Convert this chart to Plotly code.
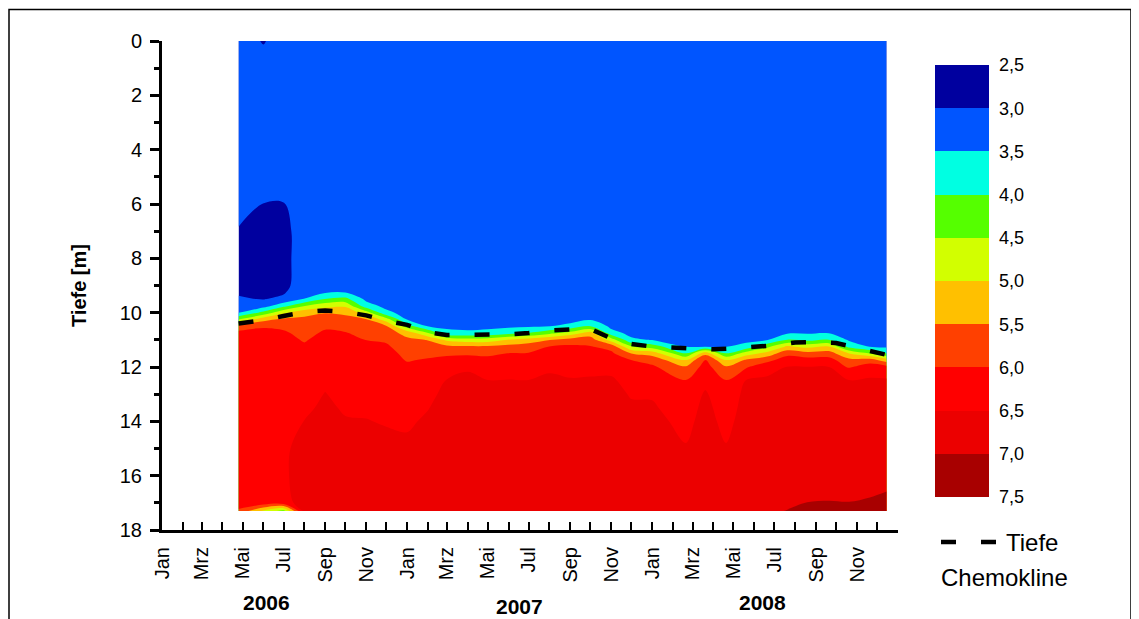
import numpy as np
import plotly.graph_objects as go

# ---------------- data ----------------
DEPTHS = [0, 1, 3, 5, 6, 7, 8, 9, 9.25, 9.5, 9.75, 10, 10.25, 10.5, 10.75,
          11, 11.25, 11.5, 11.75, 12, 12.5, 13, 13.5, 14, 15, 16, 17, 17.3]

DATES_2006 = ["2006-04-25", "2006-06-01", "2006-07-01", "2006-08-01", "2006-09-01",
              "2006-10-01", "2006-11-01", "2006-12-01"]
DATES_2007 = ["2007-01-01", "2007-02-01", "2007-03-01", "2007-04-01", "2007-05-01",
              "2007-06-01", "2007-07-01", "2007-08-01", "2007-09-01", "2007-10-01",
              "2007-11-01", "2007-12-01"]
DATES_2008 = ["2008-01-01", "2008-02-20", "2008-03-20", "2008-04-20", "2008-05-20",
              "2008-06-20", "2008-07-20", "2008-08-20", "2008-09-20", "2008-10-20",
              "2008-11-20", "2008-12-15"]

# pH profiles (one list per sampling date, values at DEPTHS)
PH_2006 = [
    [3.2, 3.2, 3.2, 3.2, 3.15, 2.97, 2.9, 2.92, 2.95, 3.05, 3.25, 3.47, 4.49, 5.79, 6.1, 6.2, 6.22, 6.24, 6.25, 6.26, 6.27, 6.28, 6.28, 6.3, 6.3, 6.3, 6.3, 5.9],
    [2.97, 3.2, 3.2, 3.15, 2.995, 2.85, 2.85, 2.88, 2.92, 2.98, 3.3, 4.14, 5.35, 5.96, 6.12, 6.2, 6.23, 6.25, 6.26, 6.27, 6.28, 6.29, 6.3, 6.3, 6.32, 6.32, 6.3, 4.9],
    [3.2, 3.2, 3.15, 3.1, 2.99, 2.88, 2.88, 2.9, 2.95, 3.1, 3.85, 4.92, 5.61, 5.89, 6.08, 6.18, 6.22, 6.24, 6.25, 6.26, 6.27, 6.28, 6.29, 6.3, 6.4, 6.42, 6.3, 4.3],
    [3.2, 3.2, 3.2, 3.2, 3.2, 3.2, 3.2, 3.2, 3.35, 3.52, 4.48, 5.35, 5.6, 5.71, 5.83, 5.95, 6.08, 6.15, 6.2, 6.22, 6.25, 6.3, 6.4, 6.51, 6.7, 6.72, 6.72, 6.65],
    [3.2, 3.2, 3.2, 3.2, 3.2, 3.2, 3.2, 3.29, 3.44, 4.02, 4.83, 5.48, 5.71, 5.92, 6.08, 6.2, 6.22, 6.24, 6.26, 6.3, 6.4, 6.52, 6.6, 6.7, 6.72, 6.74, 6.74, 6.72],
    [3.2, 3.2, 3.2, 3.2, 3.2, 3.2, 3.2, 3.32, 3.47, 4.15, 4.91, 5.41, 5.65, 5.85, 6.03, 6.15, 6.2, 6.22, 6.24, 6.25, 6.27, 6.34, 6.44, 6.54, 6.7, 6.74, 6.74, 6.72],
    [3.2, 3.2, 3.2, 3.2, 3.2, 3.2, 3.2, 3.2, 3.23, 3.38, 3.71, 4.75, 5.53, 5.69, 5.84, 5.99, 6.12, 6.2, 6.22, 6.24, 6.26, 6.3, 6.42, 6.52, 6.7, 6.74, 6.74, 6.72],
    [3.2, 3.2, 3.2, 3.2, 3.2, 3.2, 3.2, 3.2, 3.2, 3.22, 3.37, 3.62, 4.75, 5.54, 5.73, 5.92, 6.08, 6.2, 6.22, 6.24, 6.26, 6.28, 6.36, 6.46, 6.66, 6.72, 6.74, 6.72],
]
PH_2007 = [
    [3.2, 3.2, 3.2, 3.2, 3.2, 3.2, 3.2, 3.2, 3.2, 3.2, 3.2, 3.32, 3.47, 4.25, 5.33, 5.6, 5.72, 5.85, 5.97, 6.1, 6.22, 6.25, 6.32, 6.42, 6.62, 6.7, 6.74, 6.72],
    [3.2, 3.2, 3.2, 3.2, 3.2, 3.2, 3.2, 3.2, 3.2, 3.2, 3.2, 3.2, 3.32, 3.47, 4.52, 5.48, 5.69, 5.88, 6.05, 6.18, 6.25, 6.38, 6.48, 6.58, 6.72, 6.74, 6.74, 6.72],
    [3.2, 3.2, 3.2, 3.2, 3.2, 3.2, 3.2, 3.2, 3.2, 3.2, 3.2, 3.2, 3.23, 3.38, 3.67, 4.89, 5.63, 5.94, 6.1, 6.23, 6.52, 6.62, 6.7, 6.72, 6.74, 6.75, 6.75, 6.74],
    [3.2, 3.2, 3.2, 3.2, 3.2, 3.2, 3.2, 3.2, 3.2, 3.2, 3.2, 3.2, 3.21, 3.37, 3.59, 4.72, 5.57, 5.93, 6.2, 6.45, 6.59, 6.69, 6.72, 6.74, 6.74, 6.74, 6.74, 6.73],
    [3.2, 3.2, 3.2, 3.2, 3.2, 3.2, 3.2, 3.2, 3.2, 3.2, 3.2, 3.2, 3.23, 3.38, 3.65, 4.75, 5.57, 5.93, 6.1, 6.22, 6.51, 6.61, 6.7, 6.74, 6.74, 6.74, 6.74, 6.73],
    [3.2, 3.2, 3.2, 3.2, 3.2, 3.2, 3.2, 3.2, 3.2, 3.2, 3.2, 3.2, 3.26, 3.41, 3.83, 5.02, 5.67, 6.01, 6.13, 6.25, 6.52, 6.62, 6.7, 6.74, 6.74, 6.74, 6.74, 6.73],
    [3.2, 3.2, 3.2, 3.2, 3.2, 3.2, 3.2, 3.2, 3.2, 3.2, 3.2, 3.2, 3.29, 3.44, 4.02, 5.25, 5.75, 6.03, 6.15, 6.27, 6.51, 6.6, 6.7, 6.74, 6.74, 6.74, 6.74, 6.73],
    [3.2, 3.2, 3.2, 3.2, 3.2, 3.2, 3.2, 3.2, 3.2, 3.2, 3.2, 3.2, 3.34, 3.49, 4.36, 5.49, 6.01, 6.13, 6.27, 6.43, 6.58, 6.68, 6.72, 6.74, 6.74, 6.74, 6.74, 6.73],
    [3.2, 3.2, 3.2, 3.2, 3.2, 3.2, 3.2, 3.2, 3.2, 3.2, 3.2, 3.2, 3.3, 3.67, 4.69, 5.72, 6.08, 6.2, 6.29, 6.38, 6.53, 6.63, 6.7, 6.74, 6.74, 6.74, 6.74, 6.73],
    [3.2, 3.2, 3.2, 3.2, 3.2, 3.2, 3.2, 3.2, 3.2, 3.2, 3.2, 3.3, 3.45, 4.01, 5.21, 5.74, 6.03, 6.15, 6.27, 6.38, 6.55, 6.65, 6.7, 6.74, 6.74, 6.74, 6.74, 6.73],
    [3.2, 3.2, 3.2, 3.2, 3.2, 3.2, 3.2, 3.2, 3.2, 3.2, 3.2, 3.2, 3.23, 3.38, 3.67, 4.75, 5.83, 6.1, 6.23, 6.38, 6.56, 6.66, 6.7, 6.74, 6.74, 6.74, 6.74, 6.73],
    [3.2, 3.2, 3.2, 3.2, 3.2, 3.2, 3.2, 3.2, 3.2, 3.2, 3.2, 3.2, 3.2, 3.22, 3.37, 3.58, 4.52, 5.49, 6.01, 6.13, 6.34, 6.46, 6.57, 6.67, 6.72, 6.74, 6.74, 6.73],
]
PH_2008 = [
    [3.2, 3.2, 3.2, 3.2, 3.2, 3.2, 3.2, 3.2, 3.2, 3.2, 3.2, 3.2, 3.2, 3.2, 3.35, 3.48, 4.25, 5.31, 5.83, 6.08, 6.3, 6.45, 6.56, 6.66, 6.72, 6.74, 6.74, 6.73],
    [3.2, 3.2, 3.2, 3.2, 3.2, 3.2, 3.2, 3.2, 3.2, 3.2, 3.2, 3.2, 3.2, 3.2, 3.2, 3.35, 3.49, 4.01, 5.03, 5.56, 6.02, 6.21, 6.24, 6.34, 6.54, 6.7, 6.74, 6.74],
    [3.2, 3.2, 3.2, 3.2, 3.2, 3.2, 3.2, 3.2, 3.2, 3.2, 3.2, 3.2, 3.2, 3.2, 3.2, 3.34, 3.49, 5.33, 6.07, 6.19, 6.39, 6.55, 6.65, 6.7, 6.74, 6.74, 6.74, 6.74],
    [3.2, 3.2, 3.2, 3.2, 3.2, 3.2, 3.2, 3.2, 3.2, 3.2, 3.2, 3.2, 3.2, 3.2, 3.2, 3.34, 3.49, 4.01, 5.03, 5.56, 6.02, 6.21, 6.24, 6.34, 6.54, 6.7, 6.74, 6.74],
    [3.2, 3.2, 3.2, 3.2, 3.2, 3.2, 3.2, 3.2, 3.2, 3.2, 3.2, 3.2, 3.2, 3.2, 3.23, 3.38, 3.67, 4.75, 5.58, 5.95, 6.52, 6.62, 6.7, 6.74, 6.74, 6.74, 6.76, 6.8],
    [3.2, 3.2, 3.2, 3.2, 3.2, 3.2, 3.2, 3.2, 3.2, 3.2, 3.2, 3.2, 3.2, 3.2, 3.31, 3.46, 4.38, 5.18, 5.86, 6.33, 6.58, 6.68, 6.72, 6.74, 6.74, 6.74, 6.82, 6.9],
    [3.2, 3.2, 3.2, 3.2, 3.2, 3.2, 3.2, 3.2, 3.2, 3.2, 3.2, 3.2, 3.2, 3.29, 3.44, 4.01, 5.09, 5.85, 6.26, 6.51, 6.61, 6.7, 6.74, 6.74, 6.74, 6.74, 6.9, 7.02],
    [3.2, 3.2, 3.2, 3.2, 3.2, 3.2, 3.2, 3.2, 3.2, 3.2, 3.2, 3.2, 3.2, 3.31, 3.46, 3.86, 4.86, 5.68, 6.2, 6.51, 6.61, 6.7, 6.74, 6.74, 6.74, 6.74, 7.01, 7.08],
    [3.2, 3.2, 3.2, 3.2, 3.2, 3.2, 3.2, 3.2, 3.2, 3.2, 3.2, 3.2, 3.2, 3.33, 3.48, 4.01, 5.01, 5.75, 6.19, 6.51, 6.6, 6.7, 6.74, 6.74, 6.74, 6.76, 7.02, 7.1],
    [3.2, 3.2, 3.2, 3.2, 3.2, 3.2, 3.2, 3.2, 3.2, 3.2, 3.2, 3.2, 3.2, 3.2, 3.28, 3.43, 3.86, 5.01, 5.67, 5.94, 6.52, 6.62, 6.7, 6.74, 6.74, 6.76, 7.01, 7.1],
    [3.2, 3.2, 3.2, 3.2, 3.2, 3.2, 3.2, 3.2, 3.2, 3.2, 3.2, 3.2, 3.2, 3.2, 3.2, 3.35, 3.49, 4.51, 5.75, 6.26, 6.56, 6.66, 6.72, 6.74, 6.74, 6.8, 7.05, 7.12],
    [3.2, 3.2, 3.2, 3.2, 3.2, 3.2, 3.2, 3.2, 3.2, 3.2, 3.2, 3.2, 3.2, 3.2, 3.2, 3.28, 3.43, 4.01, 5.25, 6.17, 6.56, 6.66, 6.72, 6.74, 6.74, 6.86, 7.1, 7.14],
]

# depth of the chemocline (dashed line)
CHEMO_DATES = ["2006-04-25", "2006-06-01", "2006-07-01", "2006-08-01", "2006-09-01",
               "2006-10-01", "2006-11-01", "2006-12-01", "2007-01-01", "2007-02-01",
               "2007-03-01", "2007-04-01", "2007-05-01", "2007-06-01", "2007-07-01",
               "2007-08-01", "2007-09-01", "2007-10-01", "2007-11-01", "2007-12-01",
               "2008-01-01", "2008-02-01", "2008-03-01", "2008-04-01", "2008-05-01",
               "2008-06-01", "2008-07-01", "2008-08-01", "2008-09-01", "2008-10-01",
               "2008-11-01", "2008-12-15"]
CHEMO_DEPTHS = [10.4, 10.28, 10.12, 9.98, 9.92, 9.97, 10.1, 10.3, 10.45, 10.72,
                10.82, 10.82, 10.78, 10.8, 10.75, 10.66, 10.62, 10.6, 10.95, 11.15,
                11.25, 11.28, 11.33, 11.35, 11.32, 11.28, 11.2, 11.1, 11.08, 11.12,
                11.3, 11.55]

MONTH_TICKS = ["2006-01-01", "2006-02-01", "2006-03-01", "2006-04-01", "2006-05-01", "2006-06-01",
               "2006-07-01", "2006-08-01", "2006-09-01", "2006-10-01", "2006-11-01", "2006-12-01",
               "2007-01-01", "2007-02-01", "2007-03-01", "2007-04-01", "2007-05-01", "2007-06-01",
               "2007-07-01", "2007-08-01", "2007-09-01", "2007-10-01", "2007-11-01", "2007-12-01",
               "2008-01-01", "2008-02-01", "2008-03-01", "2008-04-01", "2008-05-01", "2008-06-01",
               "2008-07-01", "2008-08-01", "2008-09-01", "2008-10-01", "2008-11-01", "2008-12-01"]
MONTH_LABELS = ["Jan", "", "Mrz", "", "Mai", "", "Jul", "", "Sep", "", "Nov", "",
                "Jan", "", "Mrz", "", "Mai", "", "Jul", "", "Sep", "", "Nov", "",
                "Jan", "", "Mrz", "", "Mai", "", "Jul", "", "Sep", "", "Nov", ""]
YEARS = ["2006", "2007", "2008"]

LEVELS = [2.5, 3.0, 3.5, 4.0, 4.5, 5.0, 5.5, 6.0, 6.5, 7.0, 7.5]
LEVEL_LABELS = ["2,5", "3,0", "3,5", "4,0", "4,5", "5,0", "5,5", "6,0", "6,5", "7,0", "7,5"]
# band colours from lowest to highest pH
BAND_COLORS = ["#00009F", "#0055FF", "#00FFE2", "#55FF00", "#D2FF00",
               "#FFC000", "#FF4000", "#FF0000", "#EC0000", "#A80000"]

# ---------------- page geometry (page is offset 8 px by the body margin) ----------------
OFF = 8
PL, PR, PT, PB = 162, 1100, 41, 530          # plot area in page pixels
W, H = 1139 - OFF, 619 - OFF


def px(xp):
    return (xp - PL) / (PR - PL)


def py(yp):
    return (PB - yp) / (PB - PT)


# ---------------- build figure ----------------
dates = DATES_2006 + DATES_2007 + DATES_2008
profiles = PH_2006 + PH_2007 + PH_2008
for p in profiles:
    assert len(p) == len(DEPTHS)
z = np.array(profiles, dtype=float).T

n = len(BAND_COLORS)
colorscale = []
for i, c in enumerate(BAND_COLORS):
    colorscale.append([i / n, c])
    colorscale.append([(i + 1) / n, c])

FONT = "Arial, Liberation Sans, sans-serif"

fig = go.Figure()
fig.add_trace(go.Contour(
    x=dates, y=DEPTHS, z=z,
    contours=dict(start=LEVELS[1], end=LEVELS[-2], size=0.5, coloring="fill",
                  showlines=False),
    line=dict(width=0),
    colorscale=colorscale, showscale=False,
    showlegend=False, hoverinfo="skip",
))

fig.add_trace(go.Scatter(
    x=CHEMO_DATES, y=CHEMO_DEPTHS, mode="lines",
    line=dict(color="black", width=4.5, dash="15px,25px"),
    name="Tiefe", showlegend=True, hoverinfo="skip",
))

# colour scale drawn as a one-column heatmap (2,5 at top, 7,5 at bottom)
centers = [(a + b) / 2 for a, b in zip(LEVELS[:-1], LEVELS[1:])]
fig.add_trace(go.Heatmap(
    x=[0], y=centers, z=[[c] for c in centers],
    zmin=LEVELS[0], zmax=LEVELS[-1], colorscale=colorscale, showscale=False,
    xaxis="x3", yaxis="y4", hoverinfo="skip", showlegend=False,
))

axis_common = dict(showgrid=False, zeroline=False, linecolor="black")
XDOM = [0, px(898)]

fig.update_layout(
    width=W, height=H, autosize=False,
    margin=dict(l=PL - OFF, r=W - (PR - OFF), t=PT - OFF, b=H - (PB - OFF), pad=0),
    paper_bgcolor="white", plot_bgcolor="white",
    font=dict(family=FONT, color="black"),
    xaxis=dict(
        **axis_common, domain=XDOM, type="date", range=["2006-01-01", "2009-01-01"],
        tickmode="array", tickvals=MONTH_TICKS, ticktext=MONTH_LABELS,
        tickangle=-90, ticks="inside", ticklen=8, tickwidth=2, tickcolor="black",
        showline=True, linewidth=3, ticklabelstandoff=6,
        tickfont=dict(size=20, family=FONT, color="black"),
    ),
    xaxis2=dict(
        **axis_common, type="date", range=["2006-01-01", "2009-01-01"], overlaying="x",
        side="top", anchor="y", tickmode="array", tickvals=MONTH_TICKS,
        ticks="inside", ticklen=3, tickwidth=1.5, tickcolor="black",
        showticklabels=False, showline=True, linewidth=3,
    ),
    yaxis=dict(
        **axis_common, range=[18, 0], tickmode="linear", tick0=0, dtick=2,
        ticks="outside", ticklen=9, tickwidth=2.5, tickcolor="black",
        minor=dict(tickmode="linear", tick0=0, dtick=1, ticks="outside", ticklen=5,
                   tickwidth=2.5, tickcolor="black"),
        showline=True, linewidth=3, ticklabelstandoff=4,
        tickfont=dict(size=20, family=FONT, color="black"),
        title=dict(text="<b>Tiefe [m]</b>", font=dict(size=20, family=FONT, color="black"),
                   standoff=28),
    ),
    yaxis2=dict(
        **axis_common, range=[18, 0], overlaying="y", side="left", anchor="x",
        tickmode="linear", tick0=0, dtick=2,
        ticks="inside", ticklen=9, tickwidth=2.5, tickcolor="black",
        minor=dict(tickmode="linear", tick0=0, dtick=1, ticks="inside", ticklen=5,
                   tickwidth=2.5, tickcolor="black"),
        showticklabels=False, showline=False,
    ),
    yaxis3=dict(
        **axis_common, range=[18, 0], overlaying="y", side="right", anchor="x",
        tickmode="linear", tick0=0, dtick=2,
        ticks="inside", ticklen=10, tickwidth=2.5, tickcolor="black",
        minor=dict(tickmode="linear", tick0=0, dtick=1, ticks="inside", ticklen=5,
                   tickwidth=2.5, tickcolor="black"),
        showticklabels=False, showline=True, linewidth=3,
    ),
    xaxis3=dict(domain=[px(935), px(989)], anchor="y4", range=[-0.5, 0.5],
                showgrid=False, zeroline=False, showticklabels=False, ticks="",
                showline=False, fixedrange=True),
    yaxis4=dict(domain=[py(497), py(65)], anchor="x3", side="right",
                range=[LEVELS[-1], LEVELS[0]], tickmode="array", tickvals=LEVELS,
                ticktext=LEVEL_LABELS, ticks="", showline=False, showgrid=False,
                zeroline=False, ticklabelstandoff=9, fixedrange=True,
                tickfont=dict(size=18, family=FONT, color="black")),
    legend=dict(
        x=px(936), y=py(520), xanchor="left", yanchor="top",
        font=dict(size=24, family=FONT, color="black"), itemwidth=60,
        bgcolor="rgba(0,0,0,0)", borderwidth=0,
    ),
    showlegend=True,
)

year_pos = [(266, 603), (519, 606), (762, 603)]
for txt, (xp, yp) in zip(YEARS, year_pos):
    fig.add_annotation(text="<b>%s</b>" % txt, xref="paper", yref="paper", showarrow=False,
                       x=px(xp), y=py(yp), xanchor="center", yanchor="middle",
                       font=dict(size=21, family=FONT, color="black"))
fig.add_annotation(text="Chemokline", xref="paper", yref="paper", showarrow=False,
                   x=px(939), y=py(577), xanchor="left", yanchor="middle",
                   font=dict(size=24, family=FONT, color="black"))

# outer frame
fig.add_shape(type="rect", xref="paper", yref="paper",
              x0=px(9), x1=px(1131), y0=py(640), y1=py(9.5),
              line=dict(color="black", width=1.5), fillcolor="rgba(0,0,0,0)", layer="below")

fig.write_html("out.html")
